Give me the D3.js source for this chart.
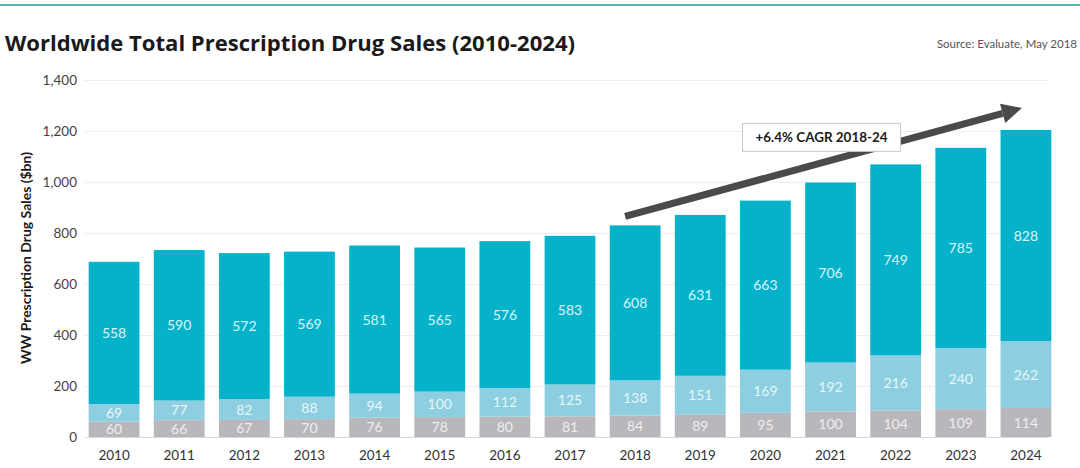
<!DOCTYPE html>
<html><head><meta charset="utf-8">
<script src="https://cdn.jsdelivr.net/npm/d3@7"></script>
<style>
html,body{margin:0;padding:0;background:#fff;}
svg{display:block;font-family:Lato,"Open Sans",sans-serif;}
</style></head>
<body><svg id="c" width="1080" height="468"></svg>
<script>
const years = ["2010","2011","2012","2013","2014","2015","2016","2017","2018","2019","2020","2021","2022","2023","2024"];
const bottomVals = [60,66,67,70,76,78,80,81,84,89,95,100,104,109,114];
const middleVals = [69,77,82,88,94,100,112,125,138,151,169,192,216,240,262];
const topVals = [558,590,572,569,581,565,576,583,608,631,663,706,749,785,828];
const yTicks = [0,200,400,600,800,1000,1200,1400];
const seriesKeys = ["bottom","middle","top"];
const seriesColors = ["#b9b7bb","#8dcfe0","#06b2ca"];
const labelColors = ["#eeeeee","#e6f6fa","#d6f6fb"];
const arrowStart = {year:"2018", value:865};
const arrowEnd = {year:"2024", value:1290};
const cagrLabel = "+6.4% CAGR 2018-24";

const svg = d3.select("#c");
const W = 1080, H = 468;
const x = d3.scaleBand().domain(years).range([81.5, 1058.5]).paddingInner(0.22).paddingOuter(0.11);
const y = d3.scaleLinear().domain([0,1400]).range([437,80]);

// top rule
svg.append("rect").attr("x",0).attr("y",4).attr("width",W).attr("height",2).attr("fill","#5fb1b0");

// title
svg.append("text").attr("x",5).attr("y",51).attr("font-size",22).attr("font-weight",700)
  .attr("font-family","'Open Sans',sans-serif")
  .attr("fill","#1a1a1a").attr("textLength",570).attr("lengthAdjust","spacingAndGlyphs")
  .text("Worldwide Total Prescription Drug Sales (2010-2024)");
svg.append("text").attr("x",1077).attr("y",48).attr("text-anchor","end").attr("font-size",11.5)
  .attr("fill","#555").text("Source: Evaluate, May 2018");

// gridlines
svg.append("g").selectAll("line").data(yTicks).join("line")
  .attr("x1",85).attr("x2",1048).attr("y1",d=>y(d)+0.5).attr("y2",d=>y(d)+0.5)
  .attr("stroke",d=>d===0?"#d8d8d8":"#eeeeee").attr("stroke-width",1);

// y axis
const yAxis = d3.axisLeft(y).tickValues(yTicks).tickFormat(d3.format(",")).tickSize(0).tickPadding(0);
const yg = svg.append("g").attr("transform","translate(77,0)").call(yAxis);
yg.select(".domain").remove();
yg.selectAll("text").attr("font-size",13.5).attr("fill","#444").attr("font-family","Lato,sans-serif");

svg.append("text").attr("transform","translate(31,258) rotate(-90)").attr("text-anchor","middle")
  .attr("font-size",12.5).attr("font-weight",700).attr("fill","#1a1a1a")
  .attr("textLength",212).attr("lengthAdjust","spacingAndGlyphs")
  .text("WW Prescription Drug Sales ($bn)");

// x axis
const xAxis = d3.axisBottom(x).tickSize(0).tickPadding(0);
const xg = svg.append("g").attr("transform","translate(0,460)").call(xAxis);
xg.select(".domain").remove();
xg.selectAll("text").attr("font-size",13.5).attr("fill","#333").attr("dy","0").attr("font-family","Lato,sans-serif");

// stacked data
const rows = years.map((yr,i)=>({year:yr, bottom:bottomVals[i], middle:middleVals[i], top:topVals[i]}));
const stack = d3.stack().keys(seriesKeys)(rows);

const layers = svg.append("g").selectAll("g").data(stack).join("g").attr("fill",(d,i)=>seriesColors[i]);
layers.selectAll("rect").data(d=>d).join("rect")
  .attr("x",d=>x(d.data.year)).attr("width",x.bandwidth())
  .attr("y",d=>y(d[1])).attr("height",d=>y(d[0])-y(d[1]));

const labels = svg.append("g").selectAll("g").data(stack).join("g")
  .attr("fill",(d,i)=>labelColors[i]);
labels.selectAll("text").data(d=>d.map(v=>({v, key:d.key}))).join("text")
  .attr("x",d=>x(d.v.data.year)+x.bandwidth()/2)
  .attr("y",d=>y((d.v[0]+d.v[1])/2))
  .attr("dy","0.36em")
  .attr("text-anchor","middle").attr("font-size",14)
  .text(d=>d.v.data[d.key]);

// arrow annotation
const x0 = x(arrowStart.year)+x.bandwidth()/2 - 10, y0 = y(arrowStart.value);
const x1 = x(arrowEnd.year)+x.bandwidth()/2 - 4, y1 = y(arrowEnd.value);
const ang = Math.atan2(y1-y0, x1-x0);
const headLen = 20, headW = 10;
const bx = x1 - headLen*Math.cos(ang), by = y1 - headLen*Math.sin(ang);
svg.append("line").attr("x1",x0).attr("y1",y0).attr("x2",bx).attr("y2",by)
  .attr("stroke","#4a4a4c").attr("stroke-width",7);
const px = -Math.sin(ang), py = Math.cos(ang);
svg.append("path").attr("d",`M${x1},${y1}L${bx+px*headW},${by+py*headW}L${bx-px*headW},${by-py*headW}Z`)
  .attr("fill","#4a4a4c");

// CAGR box
const bxc = (x(years[11])+x.bandwidth()/2) - 9;
const byc = y(1175);
const tb = svg.append("g");
const boxW = 158, boxH = 28;
tb.append("rect").attr("x",bxc-boxW/2).attr("y",byc-boxH/2).attr("width",boxW).attr("height",boxH)
  .attr("fill","#fff").attr("stroke","#c8c8c8").attr("stroke-width",1);
tb.append("text").attr("x",bxc).attr("y",byc).attr("dy","0.36em").attr("text-anchor","middle")
  .attr("font-size",13.5).attr("font-weight",700).attr("fill","#1a1a1a")
  .attr("textLength",132).attr("lengthAdjust","spacingAndGlyphs").text(cagrLabel);
</script></body></html>
